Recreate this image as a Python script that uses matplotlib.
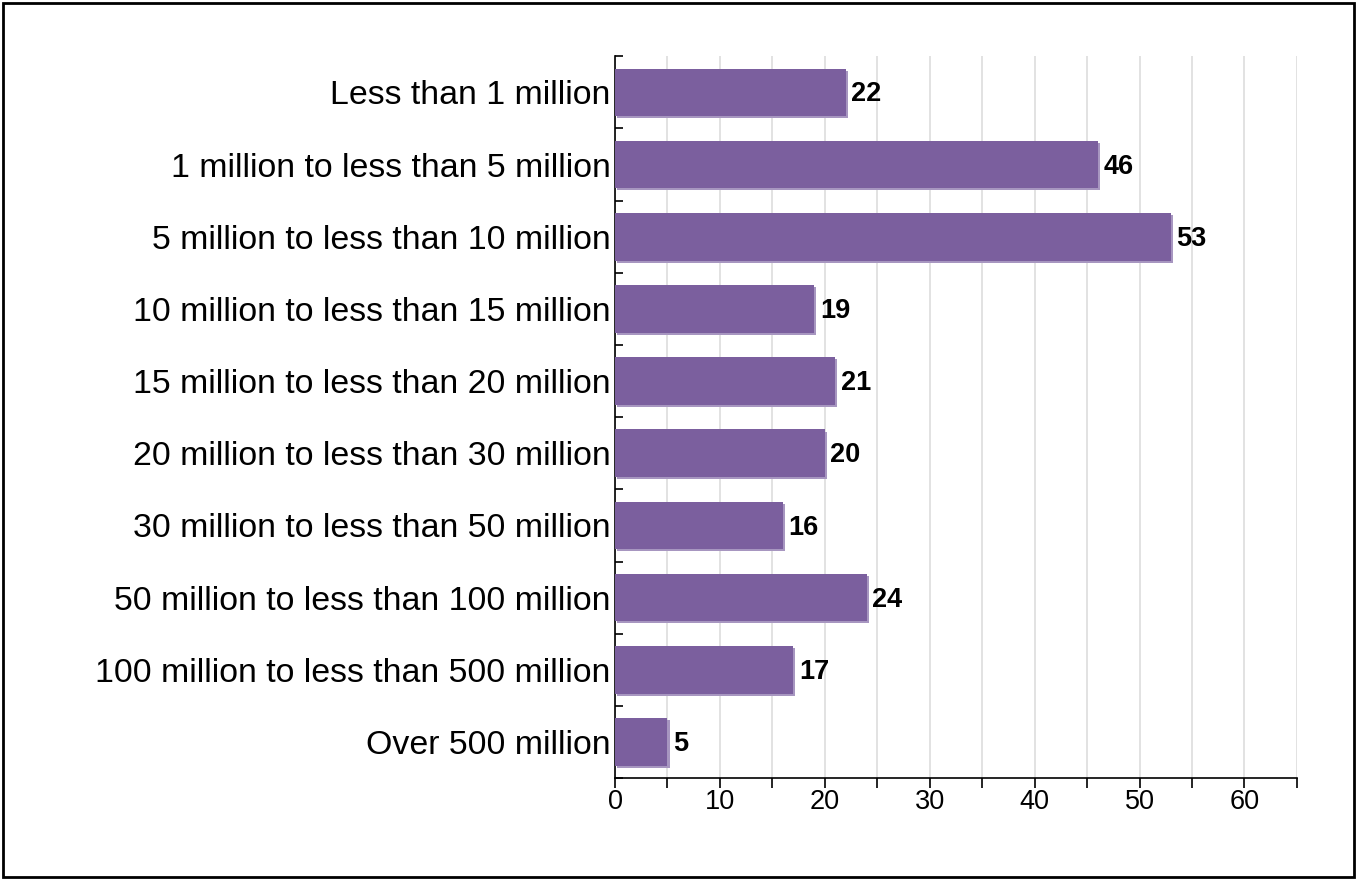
import matplotlib
matplotlib.use("Agg")
import matplotlib.pyplot as plt
from matplotlib.patches import Rectangle
from matplotlib.ticker import MultipleLocator
import matplotlib.patheffects as pe

categories = [
    "Less than 1 million",
    "1 million to less than 5 million",
    "5 million to less than 10 million",
    "10 million to less than 15 million",
    "15 million to less than 20 million",
    "20 million to less than 30 million",
    "30 million to less than 50 million",
    "50 million to less than 100 million",
    "100 million to less than 500 million",
    "Over 500 million",
]
values = [22, 46, 53, 19, 21, 20, 16, 24, 17, 5]
x_ticks = [0, 10, 20, 30, 40, 50, 60]

plt.rcParams['font.family'] = ['Liberation Sans', 'DejaVu Sans']

fig = plt.figure(figsize=(13.58, 8.8), dpi=100)
ax = fig.add_axes([0.4529, 0.1159, 0.955 - 0.4529, 0.936 - 0.1159])

n = len(categories)
ypos = list(range(n))
bars = ax.barh(ypos, values, height=0.66, color="#7b5f9e", zorder=3,
               edgecolor="none")
for b in bars:
    b.set_path_effects([pe.SimplePatchShadow(offset=(1.5, -1.5), shadow_rgbFace="#a796c0", alpha=1.0),
                        pe.Normal()])

for y, v in zip(ypos, values):
    ax.annotate(str(v), (v, y), xytext=(4, -1.5), textcoords="offset points",
                va="center", ha="left", fontsize=19.5, fontweight="bold", color="black")

ax.set_xlim(0, 65)
ax.set_ylim(n - 0.5, -0.5)
ax.set_yticks(ypos)
ax.set_yticklabels(categories, fontsize=24.4, va="center_baseline")
ax.set_yticks([i - 0.5 for i in range(n + 1)], minor=True)
ax.tick_params(axis="y", which="major", length=0, pad=3)
ax.tick_params(axis="y", which="minor", length=6, width=1.2, direction="in")

ax.set_xticks(x_ticks)
ax.xaxis.set_minor_locator(MultipleLocator(5))
ax.tick_params(axis="x", which="both", length=7, width=1.2, direction="out", labelsize=19.5, pad=1)
ax.grid(axis="x", which="both", color="#dddddd", linewidth=1.2, zorder=0)

for s in ["top", "right"]:
    ax.spines[s].set_visible(False)
ax.spines["left"].set_linewidth(1.2)
ax.spines["bottom"].set_linewidth(1.2)

fig.patches.append(Rectangle((0.002, 0.003), 0.995, 0.994, transform=fig.transFigure,
                             fill=False, edgecolor="black", linewidth=2.0))

fig.savefig("out.png", dpi=100, facecolor="white")
